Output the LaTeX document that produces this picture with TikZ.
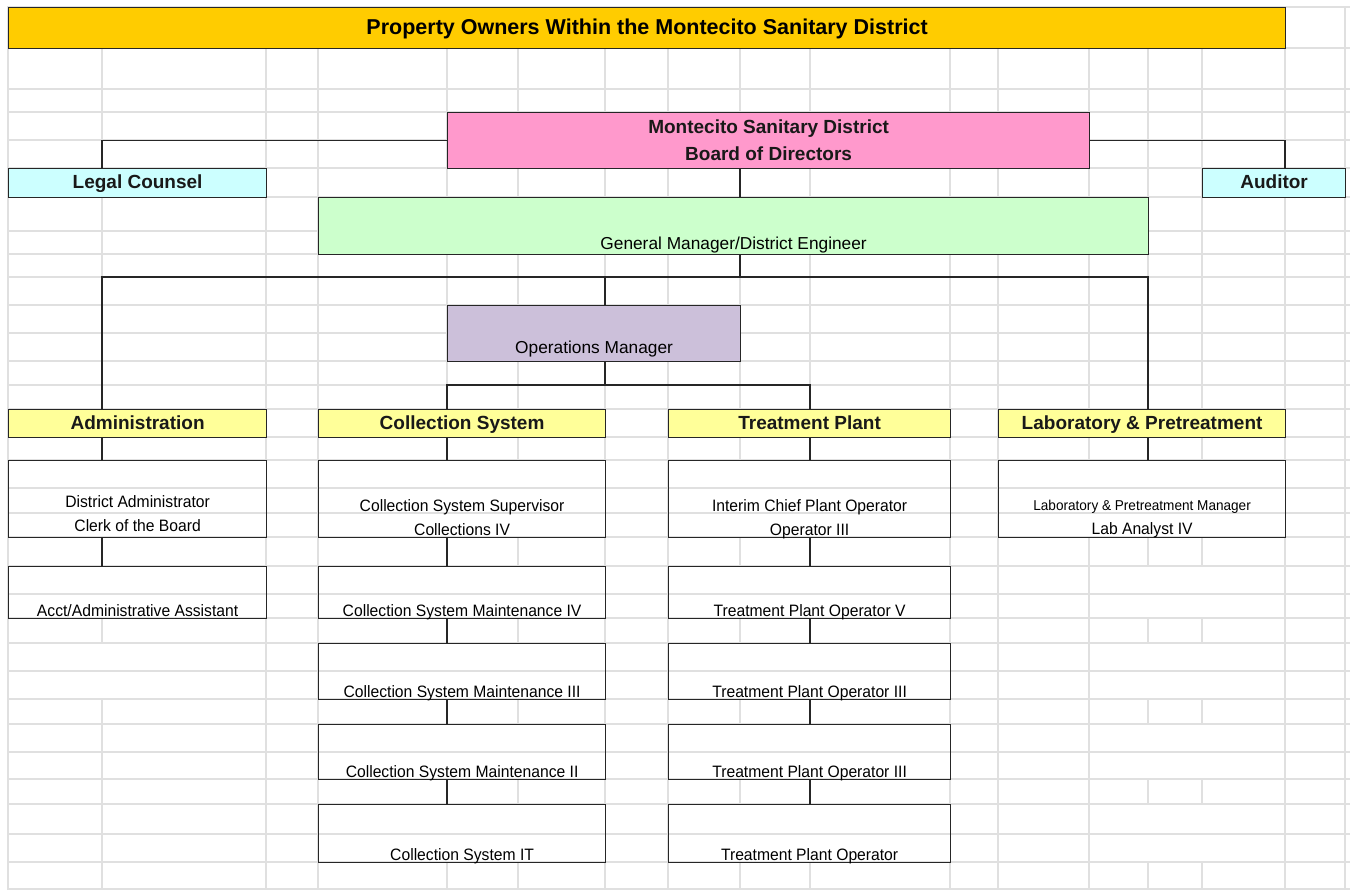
\documentclass[tikz,border=0pt]{standalone}
\usepackage{fontspec}
\setmainfont{Liberation Sans}
\newfontfamily\narrowfont{Liberation Sans}[FakeStretch=0.95]
\usepackage{tikz}

\definecolor{titlegold}{HTML}{FFCC00}
\definecolor{boardpink}{HTML}{FF99CC}
\definecolor{advcyan}{HTML}{CCFFFF}
\definecolor{gmgreen}{HTML}{CCFFCC}
\definecolor{opslilac}{HTML}{CCC0DA}
\definecolor{deptyellow}{HTML}{FFFF99}
\definecolor{gridgray}{HTML}{E0E0E0}

\pgfdeclarelayer{gridv}
\pgfdeclarelayer{gridmask}
\pgfdeclarelayer{gridh}
\pgfsetlayers{gridv,gridmask,gridh,main}

\tikzset{
    cellbox/.style={draw=black!85, line width=1.2pt, inner sep=0pt, anchor=north west},
    wh/.style 2 args={minimum width=#1pt, minimum height=#2pt},
    link/.style={draw=black!85, line width=1.2pt},
    gridline/.style={draw=gridgray, line width=1.2pt},
    titletext/.style={font=\bfseries\fontsize{21.5}{24}\selectfont, anchor=base, inner sep=0pt},
    headtext/.style={font=\bfseries\fontsize{19}{22}\selectfont, text=black!90, anchor=base, inner sep=0pt},
    bodytext/.style={font=\fontsize{17.3}{20}\selectfont, anchor=base, inner sep=0pt},
    narrowtext/.style={font=\narrowfont\fontsize{16.5}{19}\selectfont, anchor=base, inner sep=0pt},
    smalltext/.style={font=\narrowfont\fontsize{14.3}{17}\selectfont, anchor=base, inner sep=0pt}
}

\begin{document}
\begin{tikzpicture}[x=1pt, y=-1pt]
    \useasboundingbox (0,0) rectangle (1353,892);

    % Sheet grid
    \begin{pgfonlayer}{gridv}
        \foreach \x in {8,102,266,318,447,518,605,668,740,810,950,998,1089,1148,1202,1285,1345}
            \draw[gridline] (\x,7) -- (\x,889);
    \end{pgfonlayer}
    \begin{pgfonlayer}{gridh}
        \foreach \y in {7,48,89,112,140,168,197,231,254,277,305,333,361,385,409,437,460,488,513,537,566,594,618,643,671,699,724,752,779,804,834,862,889}
            \draw[gridline] (7,\y) -- (1350,\y);
    \end{pgfonlayer}
    \begin{pgfonlayer}{gridmask}
        \foreach \ya/\yb in {566/618,643/699,724/779,804/862}
            \fill[white] (1140,\ya) rectangle (1210,\yb);
        \fill[white] (95,643) rectangle (110,699);
    \end{pgfonlayer}

    % Connector columns
    \coordinate (cB) at (102,0);
    \coordinate (cE) at (447,0);
    \coordinate (cG) at (605,0);
    \coordinate (cI) at (740,0);
    \coordinate (cJ) at (810,0);
    \coordinate (cN) at (1148,0);
    \coordinate (cP) at (1285,0);
    \coordinate (bus1) at (0,277);
    \coordinate (bus2) at (0,385);

    % Top of the chart
    \node[cellbox, fill=titlegold, wh={1277}{41}] (title) at (8,7) {};
    \node[titletext] (title-t) at ([yshift=15pt]title.south) {Property Owners Within the Montecito Sanitary District};

    \node[cellbox, fill=boardpink, wh={642}{56}] (board) at (447,112) {};
    \node[headtext] (board-a) at ([yshift=36pt]board.south) {Montecito Sanitary District};
    \node[headtext] (board-b) at ([yshift=9pt]board.south) {Board of Directors};

    \node[cellbox, fill=advcyan, wh={258}{29}] (legal) at (8,168) {};
    \node[headtext] (legal-t) at ([yshift=10pt]legal.south) {Legal Counsel};
    \node[cellbox, fill=advcyan, wh={143}{29}] (auditor) at (1202,168) {};
    \node[headtext] (auditor-t) at ([yshift=10pt]auditor.south) {Auditor};

    \node[cellbox, fill=gmgreen, wh={830}{57}] (gm) at (318,197) {};
    \node[bodytext] (gm-t) at ([yshift=6pt]gm.south) {General Manager/District Engineer};

    \node[cellbox, fill=opslilac, wh={293}{56}] (ops) at (447,305) {};
    \node[bodytext] (ops-t) at ([yshift=9pt]ops.south) {Operations Manager};

    % Departments
    \foreach \n/\x/\w/\txt in {admh/8/258/Administration, colh/318/287/Collection System,
                               trth/668/282/Treatment Plant, labh/998/287/Laboratory \& Pretreatment} {
        \node[cellbox, fill=deptyellow, wh={\w}{28}] (\n) at (\x,409) {};
        \node[headtext] (\n-t) at ([yshift=9pt]\n.south) {\txt};
    }

    % First staff row (two lines each)
    \node[cellbox, wh={258}{77}] (adm1) at (8,460) {};
    \node[narrowtext] (adm1-a) at ([yshift=31pt]adm1.south) {District Administrator};
    \node[narrowtext] (adm1-b) at ([yshift=7pt]adm1.south) {Clerk of the Board};
    \node[cellbox, wh={287}{77}] (col1) at (318,460) {};
    \node[narrowtext] (col1-a) at ([yshift=27pt]col1.south) {Collection System Supervisor};
    \node[narrowtext] (col1-b) at ([yshift=3pt]col1.south) {Collections IV};
    \node[cellbox, wh={282}{77}] (trt1) at (668,460) {};
    \node[narrowtext] (trt1-a) at ([yshift=27pt]trt1.south) {Interim Chief Plant Operator};
    \node[narrowtext] (trt1-b) at ([yshift=3pt]trt1.south) {Operator III};
    \node[cellbox, wh={287}{77}] (lab1) at (998,460) {};
    \node[smalltext] (lab1-a) at ([yshift=28pt]lab1.south) {Laboratory \& Pretreatment Manager};
    \node[narrowtext] (lab1-b) at ([yshift=4pt]lab1.south) {Lab Analyst IV};

    % Lower staff rows
    \node[cellbox, wh={258}{52}] (adm2) at (8,566) {};
    \node[narrowtext] (adm2-t) at ([yshift=3pt]adm2.south) {Acct/Administrative Assistant};
    \foreach \r/\y/\h/\ctxt/\ttxt in {2/566/52/Collection System Maintenance IV/Treatment Plant Operator V,
                                      3/643/56/Collection System Maintenance III/Treatment Plant Operator III,
                                      4/724/55/Collection System Maintenance II/Treatment Plant Operator III,
                                      5/804/58/Collection System IT/Treatment Plant Operator} {
        \node[cellbox, wh={287}{\h}] (col\r) at (318,\y) {};
        \node[narrowtext] (col\r-t) at ([yshift=3pt]col\r.south) {\ctxt};
        \node[cellbox, wh={282}{\h}] (trt\r) at (668,\y) {};
        \node[narrowtext] (trt\r-t) at ([yshift=3pt]trt\r.south) {\ttxt};
    }

    % White cells hide the column lines
    \begin{pgfonlayer}{gridmask}
        \foreach \b in {adm1,col1,trt1,lab1,adm2,col2,trt2,col3,trt3,col4,trt4,col5,trt5}
            \fill[white] (\b.north west) rectangle (\b.south east);
    \end{pgfonlayer}

    % Connectors
    \draw[link] (board.west) -| (legal.north -| cB);
    \draw[link] (board.east) -| (auditor.north -| cP);
    \draw[link] (board.south -| cI) -- (gm.north -| cI);
    \draw[link] (gm.south -| cI) -- (bus1 -| cI);
    \draw[link] (admh.north -| cB) |- (bus1 -| cN) -- (labh.north -| cN);
    \draw[link] (bus1 -| cG) -- (ops.north -| cG);
    \draw[link] (ops.south -| cG) -- (bus2 -| cG);
    \draw[link] (colh.north -| cE) |- (bus2 -| cJ) -- (trth.north -| cJ);
    \foreach \a/\b/\c in {admh/adm1/cB, adm1/adm2/cB, colh/col1/cE, col1/col2/cE, col2/col3/cE,
                          col3/col4/cE, col4/col5/cE, trth/trt1/cJ, trt1/trt2/cJ, trt2/trt3/cJ,
                          trt3/trt4/cJ, trt4/trt5/cJ, labh/lab1/cN}
        \draw[link] (\a.south -| \c) -- (\b.north -| \c);
\end{tikzpicture}
\end{document}
